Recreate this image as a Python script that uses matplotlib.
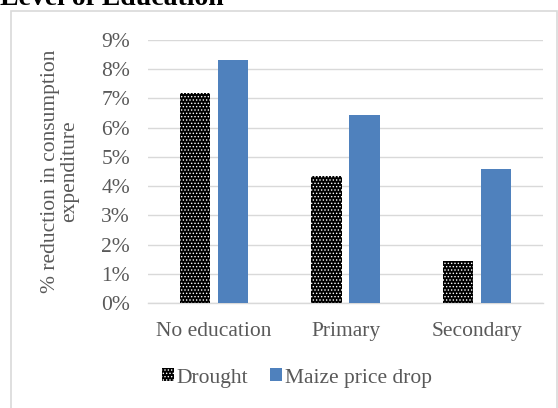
import numpy as np
import matplotlib.pyplot as plt
from matplotlib.patches import Rectangle

plt.rcParams['font.family'] = ['Liberation Serif', 'DejaVu Serif']
plt.rcParams['hatch.linewidth'] = 0.6

# data
categories = ["No education", "Primary", "Secondary"]
drought = [7.2, 4.35, 1.45]
maize = [8.3, 6.45, 4.6]
yticks = list(range(0, 10))

TEXT = "#595959"
GRID = "#d9d9d9"
BLUE = "#4f81bd"

fig = plt.figure(figsize=(5.58, 4.08), dpi=100)

# outer chart frame
fig.patches.append(Rectangle((11 / 558, -0.1), 546 / 558, 1.1 - 11 / 408,
                             transform=fig.transFigure, fill=False,
                             edgecolor=GRID, linewidth=1.2))

fig.text(0.0, 1 - 5 / 408, "Level of Education", fontsize=20,
         fontweight="bold", ha="left", va="baseline", color="black")

ax = fig.add_axes([148 / 558, 1 - 303 / 408, 395 / 558, 263 / 408])

x = np.arange(len(categories))
w = 0.23
ax.bar(x - 0.145, drought, w, facecolor="black", edgecolor="white",
       hatch=".....", linewidth=0, label="Drought", zorder=3)
ax.bar(x + 0.145, maize, w, color=BLUE, label="Maize price drop", zorder=3)

ax.set_xlim(-0.5, len(categories) - 0.5)
ax.set_ylim(0, 9)
ax.set_yticks(yticks)
ax.set_yticklabels([f"{t}%" for t in yticks])
ax.set_xticks(x)
ax.set_xticklabels(categories)
ax.tick_params(length=0, labelsize=15.5, colors=TEXT, pad=13)
ax.tick_params(axis="x", pad=14)
ax.grid(axis="y", color=GRID, linewidth=1, zorder=0)
for s in ["top", "right", "left"]:
    ax.spines[s].set_visible(False)
ax.spines["bottom"].set_color(GRID)
ax.spines["bottom"].set_linewidth(1)

ax.set_ylabel("% reduction in consumption\nexpenditure", fontsize=15.5,
              color=TEXT, labelpad=16, linespacing=1.0)

leg = ax.legend(loc="center", bbox_to_anchor=(297 / 558, 1 - 378 / 408),
                bbox_transform=fig.transFigure, ncol=2, frameon=False,
                fontsize=15.5, handlelength=0.55, handleheight=0.55,
                handletextpad=0.15, columnspacing=1.0)
for t in leg.get_texts():
    t.set_color(TEXT)

fig.savefig("out.png", dpi=100)
